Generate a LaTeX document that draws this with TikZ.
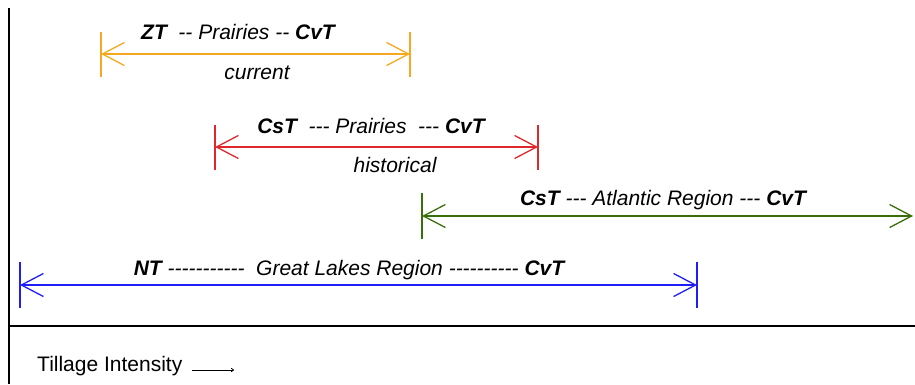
\documentclass[tikz,border=0pt]{standalone}
\usepackage{fontspec}
\setmainfont{Liberation Sans}[Ligatures=TeXOff]
\usetikzlibrary{arrows.meta}
\definecolor{curorange}{RGB}{247,168,32}
\definecolor{histred}{RGB}{222,40,44}
\definecolor{atlgreen}{RGB}{58,110,10}
\definecolor{glblue}{RGB}{30,30,245}
\tikzset{
  spanline/.style={line width=1.3pt, {Straight Barb[length=22pt,width=23pt]}-{Straight Barb[length=22pt,width=23pt]}},
  endtick/.style={line width=1.3pt},
  lbl/.style={font=\fontsize{21}{25}\selectfont\itshape, inner sep=0pt, text=black},
  axisline/.style={line width=1.3pt, black},
}
\newcommand{\tname}[1]{\textbf{\textit{#1}}}
\begin{document}
\begin{tikzpicture}[x=1pt,y=-1pt]
  \useasboundingbox (0,0) rectangle (915,384);
  % frame axes
  \coordinate (axtop) at (9,8);
  \coordinate (axbot) at (9,384);
  \coordinate (baseL) at (9,326);
  \coordinate (baseR) at (915,326);
  \draw[axisline] (axtop) -- (axbot);
  \draw[axisline] (baseL) -- (baseR);

  % current Prairies range
  \coordinate (zL) at (101,54);
  \coordinate (zR) at (410,54);
  \draw[curorange, spanline] (zL) -- (zR);
  \draw[curorange, endtick] ([yshift=-22.5pt]zL) -- ([yshift=22.5pt]zL);
  \draw[curorange, endtick] ([yshift=-22.5pt]zR) -- ([yshift=22.5pt]zR);
  \node[lbl] (zlab) at (238,32) {\tname{ZT}\ \ -- Prairies -- \tname{CvT}};
  \node[lbl] (zsub) at (257,73) {current};

  % historical Prairies range
  \coordinate (hL) at (215,147);
  \coordinate (hR) at (538,147);
  \draw[histred, spanline] (hL) -- (hR);
  \draw[histred, endtick] ([yshift=-22.5pt]hL) -- ([yshift=22.5pt]hL);
  \draw[histred, endtick] ([yshift=-22.5pt]hR) -- ([yshift=22.5pt]hR);
  \node[lbl] (hlab) at (371,126) {\tname{CsT}\ \ --- Prairies\ \ --- \tname{CvT}};
  \node[lbl] (hsub) at (395,165) {historical};

  % Atlantic Region range
  \coordinate (aL) at (422,216);
  \coordinate (aR) at (913,216);
  \draw[atlgreen, spanline] (aL) -- (aR);
  \draw[atlgreen, endtick] ([yshift=-23pt]aL) -- ([yshift=23pt]aL);
  \node[lbl] (alab) at (663,200) {\tname{CsT} --- Atlantic Region --- \tname{CvT}};

  % Great Lakes Region range
  \coordinate (gL) at (20,285);
  \coordinate (gR) at (697,285);
  \draw[glblue, spanline] (gL) -- (gR);
  \draw[glblue, endtick] ([yshift=-23pt]gL) -- ([yshift=23pt]gL);
  \draw[glblue, endtick] ([yshift=-23pt]gR) -- ([yshift=23pt]gR);
  \node[lbl] (glab) at (349,270) {\tname{NT} -----------\ \ Great Lakes Region ---------- \tname{CvT}};

  % axis caption
  \node[lbl, font=\fontsize{21}{25}\selectfont, anchor=west] (till) at (37,366) {Tillage Intensity};
  \coordinate (tiS) at (192,370);
  \coordinate (tiE) at (234,370);
  \draw[line width=0.8pt, -{To[length=3pt,width=4pt]}] (tiS) -- (tiE);
\end{tikzpicture}
\end{document}
